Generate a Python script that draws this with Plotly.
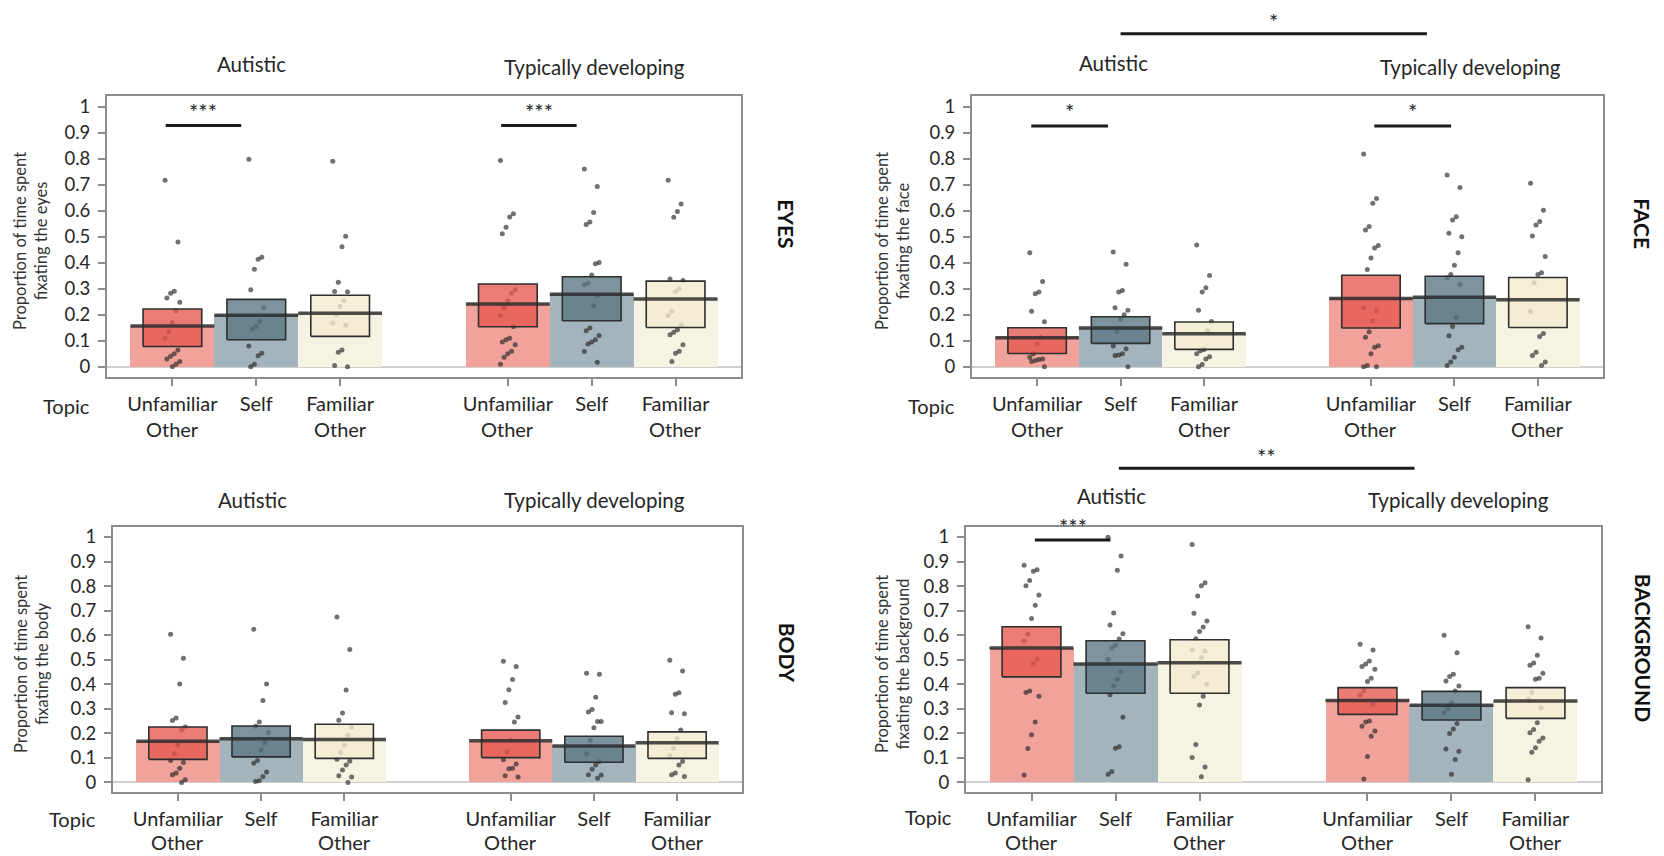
import plotly.graph_objects as go

W, H = 1664, 856
FONT = "Lato, 'Open Sans', sans-serif"
TXT = "#262626"

# ---------------- data ----------------
categories = ["Unfamiliar", "Self", "Familiar"]
categories_line2 = ["Other", "", "Other"]
groups = ["Autistic", "Typically developing"]
x_pos = [1, 2, 3, 5, 6, 7]
y_ticks = [0, 0.1, 0.2, 0.3, 0.4, 0.5, 0.6, 0.7, 0.8, 0.9, 1]
y_ticktext = ["0", "0.1", "0.2", "0.3", "0.4", "0.5", "0.6", "0.7", "0.8", "0.9", "1"]

# EYES
eyes_mean = [0.157, 0.198, 0.206, 0.241, 0.279, 0.260]
eyes_lo = [0.078, 0.104, 0.117, 0.154, 0.177, 0.151]
eyes_hi = [0.222, 0.259, 0.275, 0.318, 0.346, 0.329]
eyes_points = [
    [0.717, 0.48, 0.29, 0.283, 0.264, 0.248, 0.215, 0.17, 0.136, 0.11, 0.064, 0.05, 0.04, 0.03, 0.02, 0.01, 0.0],
    [0.798, 0.421, 0.413, 0.375, 0.296, 0.228, 0.174, 0.155, 0.145, 0.08, 0.052, 0.042, 0.01, 0.0],
    [0.79, 0.502, 0.461, 0.325, 0.289, 0.288, 0.254, 0.232, 0.2, 0.168, 0.16, 0.064, 0.056, 0.005, 0.0],
    [0.793, 0.588, 0.576, 0.536, 0.511, 0.296, 0.283, 0.254, 0.228, 0.197, 0.155, 0.11, 0.104, 0.095, 0.085, 0.06, 0.05, 0.037, 0.01],
    [0.76, 0.693, 0.593, 0.556, 0.547, 0.401, 0.396, 0.353, 0.321, 0.315, 0.273, 0.234, 0.149, 0.138, 0.12, 0.104, 0.095, 0.088, 0.059, 0.017],
    [0.717, 0.626, 0.597, 0.575, 0.337, 0.332, 0.3, 0.289, 0.213, 0.197, 0.161, 0.142, 0.133, 0.123, 0.085, 0.06, 0.052, 0.02],
]
eyes_sig = [(0.92, 1.82, "***"), (4.92, 5.82, "***")]
eyes_sig_y = 0.927

# FACE
face_mean = [0.112, 0.149, 0.127, 0.262, 0.267, 0.258]
face_lo = [0.051, 0.090, 0.067, 0.149, 0.166, 0.151]
face_hi = [0.150, 0.192, 0.172, 0.352, 0.348, 0.343]
face_points = [
    [0.438, 0.328, 0.287, 0.281, 0.213, 0.173, 0.113, 0.088, 0.05, 0.037, 0.03, 0.028, 0.024, 0.02, 0.0],
    [0.441, 0.394, 0.293, 0.287, 0.227, 0.217, 0.2, 0.183, 0.136, 0.08, 0.069, 0.05, 0.045, 0.043, 0.0],
    [0.468, 0.351, 0.304, 0.287, 0.217, 0.174, 0.138, 0.066, 0.062, 0.05, 0.039, 0.03, 0.009, 0.0],
    [0.818, 0.647, 0.628, 0.539, 0.526, 0.466, 0.456, 0.418, 0.374, 0.227, 0.215, 0.177, 0.135, 0.113, 0.081, 0.075, 0.05, 0.005, 0.0, 0.0],
    [0.737, 0.689, 0.577, 0.564, 0.513, 0.5, 0.438, 0.39, 0.355, 0.342, 0.316, 0.189, 0.155, 0.119, 0.075, 0.065, 0.037, 0.018, 0.005],
    [0.705, 0.602, 0.558, 0.545, 0.503, 0.424, 0.361, 0.355, 0.323, 0.212, 0.128, 0.116, 0.056, 0.043, 0.018, 0.005],
]
face_sig = [(0.93, 1.85, "*"), (5.04, 5.96, "*")]
face_sig_y = 0.925
face_group_sig = (2.0, 5.67, 1.28, "*")

# BODY
body_mean = [0.168, 0.178, 0.175, 0.170, 0.148, 0.162]
body_lo = [0.094, 0.104, 0.098, 0.101, 0.082, 0.098]
body_hi = [0.226, 0.230, 0.237, 0.213, 0.188, 0.206]
body_points = [
    [0.604, 0.506, 0.401, 0.262, 0.252, 0.226, 0.213, 0.152, 0.118, 0.089, 0.081, 0.058, 0.038, 0.031, 0.011, 0.0],
    [0.624, 0.401, 0.334, 0.246, 0.229, 0.202, 0.163, 0.132, 0.089, 0.078, 0.042, 0.024, 0.007, 0.004],
    [0.674, 0.541, 0.376, 0.283, 0.253, 0.226, 0.192, 0.152, 0.122, 0.094, 0.086, 0.071, 0.051, 0.027, 0.022, 0.0],
    [0.494, 0.472, 0.419, 0.378, 0.326, 0.266, 0.246, 0.172, 0.125, 0.092, 0.075, 0.058, 0.056, 0.027, 0.022],
    [0.445, 0.441, 0.347, 0.297, 0.287, 0.248, 0.248, 0.223, 0.172, 0.118, 0.085, 0.071, 0.054, 0.031, 0.03, 0.017],
    [0.498, 0.454, 0.365, 0.359, 0.284, 0.28, 0.213, 0.179, 0.139, 0.11, 0.085, 0.071, 0.038, 0.031, 0.024],
]

# BACKGROUND
bg_mean = [0.548, 0.482, 0.488, 0.334, 0.314, 0.332]
bg_lo = [0.430, 0.363, 0.363, 0.277, 0.254, 0.261]
bg_hi = [0.634, 0.577, 0.581, 0.386, 0.371, 0.386]
bg_points = [
    [0.885, 0.866, 0.86, 0.823, 0.801, 0.764, 0.722, 0.668, 0.604, 0.577, 0.502, 0.482, 0.372, 0.366, 0.351, 0.246, 0.194, 0.138, 0.03],
    [0.999, 0.922, 0.864, 0.69, 0.641, 0.606, 0.584, 0.559, 0.548, 0.502, 0.452, 0.42, 0.393, 0.357, 0.265, 0.145, 0.139, 0.044, 0.033],
    [0.969, 0.813, 0.801, 0.759, 0.689, 0.658, 0.633, 0.615, 0.585, 0.54, 0.535, 0.509, 0.447, 0.431, 0.4, 0.351, 0.315, 0.154, 0.101, 0.063, 0.023],
    [0.563, 0.539, 0.495, 0.482, 0.472, 0.461, 0.424, 0.411, 0.372, 0.355, 0.318, 0.25, 0.246, 0.229, 0.209, 0.188, 0.106, 0.014],
    [0.6, 0.528, 0.441, 0.431, 0.413, 0.393, 0.372, 0.325, 0.3, 0.284, 0.24, 0.218, 0.199, 0.136, 0.127, 0.093, 0.033],
    [0.634, 0.588, 0.518, 0.486, 0.477, 0.445, 0.424, 0.42, 0.366, 0.34, 0.304, 0.243, 0.216, 0.202, 0.181, 0.168, 0.141, 0.123, 0.011],
]
bg_sig = [(1.04, 1.94, "***")]
bg_sig_y = 0.988
bg_group_sig = (2.04, 5.56, 1.28, "**")

# ---------------- styles / layout ----------------
BAR_COLORS = ["#F1A29B", "#A3B4BD", "#F7F3E3"] * 2
BOX_COLORS = ["rgba(230,87,79,0.78)", "rgba(88,117,130,0.78)", "rgba(243,235,206,0.8)"] * 2
X_RANGE = [0.22, 7.78]
Y_RANGE = [-0.04, 1.04]
CAT_SIZE = 20

panels = [
    dict(name="EYES", ax="", mean=eyes_mean, lo=eyes_lo, hi=eyes_hi, pts=eyes_points,
         sig=eyes_sig, sig_y=eyes_sig_y, gsig=None, what="eyes",
         px_x=(107, 741), px_y=(94.5, 376.5), title_px=((252, 62), (594, 65)),
         label_px=(787, 222), ytitle_px=31, topic_px=(66, 405), line2_px=428),
    dict(name="FACE", ax="2", mean=face_mean, lo=face_lo, hi=face_hi, pts=face_points,
         sig=face_sig, sig_y=face_sig_y, gsig=face_group_sig, what="face",
         px_x=(972, 1603), px_y=(94.5, 376.5), title_px=((1113, 61), (1470, 65)),
         label_px=(1643, 222), ytitle_px=893, topic_px=(931, 405), line2_px=428),
    dict(name="BODY", ax="3", mean=body_mean, lo=body_lo, hi=body_hi, pts=body_points,
         sig=[], sig_y=None, gsig=None, what="body",
         px_x=(113, 742), px_y=(527, 793), title_px=((253, 500), (594, 500)),
         label_px=(787, 653), ytitle_px=32, topic_px=(72, 820), line2_px=843),
    dict(name="BACKGROUND", ax="4", mean=bg_mean, lo=bg_lo, hi=bg_hi, pts=bg_points,
         sig=bg_sig, sig_y=bg_sig_y, gsig=bg_group_sig, what="background",
         px_x=(966, 1601), px_y=(527, 793), title_px=((1111, 496), (1458, 500)),
         label_px=(1643, 648), ytitle_px=893, topic_px=(928, 818), line2_px=843),
]


def pxx(v):
    return v / W


def pxy(v):
    return 1 - v / H


def jitter(i):
    return (((i * 7) % 9) - 4) * 0.022


fig = go.Figure()
annotations = []
shapes = []


def ann(**kw):
    d = dict(showarrow=False, xanchor="center", yanchor="middle")
    d.update(kw)
    annotations.append(d)


for p in panels:
    xa = "x" + p["ax"]
    ya = "y" + p["ax"]
    dom_x = [pxx(p["px_x"][0]), pxx(p["px_x"][1])]
    dom_y = [pxy(p["px_y"][1]), pxy(p["px_y"][0])]

    def to_paper_x(v, dom_x=dom_x):
        return dom_x[0] + (v - X_RANGE[0]) / (X_RANGE[1] - X_RANGE[0]) * (dom_x[1] - dom_x[0])

    def to_paper_y(v, dom_y=dom_y):
        return dom_y[0] + (v - Y_RANGE[0]) / (Y_RANGE[1] - Y_RANGE[0]) * (dom_y[1] - dom_y[0])

    # background bars (mean)
    fig.add_trace(go.Bar(x=x_pos, y=p["mean"], width=1, marker=dict(color=BAR_COLORS, line=dict(width=0)),
                         xaxis=xa, yaxis=ya, hoverinfo="skip"))
    # points
    xs, ys = [], []
    for k, vals in enumerate(p["pts"]):
        for i, v in enumerate(vals):
            xs.append(x_pos[k] + jitter(i))
            ys.append(v)
    fig.add_trace(go.Scatter(x=xs, y=ys, mode="markers", xaxis=xa, yaxis=ya,
                             marker=dict(size=5, color="rgba(40,40,40,0.66)", line=dict(width=0)),
                             hoverinfo="skip"))
    # inner boxes
    for k in range(6):
        c = x_pos[k]
        fig.add_trace(go.Scatter(
            x=[c - 0.35, c + 0.35, c + 0.35, c - 0.35, c - 0.35],
            y=[p["lo"][k], p["lo"][k], p["hi"][k], p["hi"][k], p["lo"][k]],
            mode="lines", fill="toself", fillcolor=BOX_COLORS[k],
            line=dict(color="#2e2e2e", width=1.6), xaxis=xa, yaxis=ya, hoverinfo="skip"))
    # mean lines
    mx, my = [], []
    for k in range(6):
        mx += [x_pos[k] - 0.5, x_pos[k] + 0.5, None]
        my += [p["mean"][k], p["mean"][k], None]
    fig.add_trace(go.Scatter(x=mx, y=my, mode="lines", line=dict(color="rgba(45,45,45,0.85)", width=3.5),
                             xaxis=xa, yaxis=ya, hoverinfo="skip"))
    # within-group significance
    for (x0, x1, lab) in p["sig"]:
        shapes.append(dict(type="line", xref=xa, yref=ya, x0=x0, x1=x1, y0=p["sig_y"], y1=p["sig_y"],
                           line=dict(color="#1a1a1a", width=3)))
        ann(xref="paper", yref="paper", x=to_paper_x((x0 + x1) / 2), y=to_paper_y(p["sig_y"] + 0.055),
            text=lab, font=dict(family=FONT, size=22, color=TXT))

    if p["gsig"]:
        gx0, gx1, gy, glab = p["gsig"]
        shapes.append(dict(type="line", xref="paper", yref="paper", x0=to_paper_x(gx0), x1=to_paper_x(gx1),
                           y0=to_paper_y(gy), y1=to_paper_y(gy), line=dict(color="#1a1a1a", width=3)))
        ann(xref="paper", yref="paper", x=to_paper_x((gx0 + gx1) / 2), y=to_paper_y(gy) + 12 / H,
            text=glab, font=dict(family=FONT, size=22, color=TXT))

    axis_common = dict(showline=True, mirror=True, linecolor="#8c8c8c", linewidth=2, showgrid=False,
                       ticks="outside", tickcolor="#8c8c8c", ticklen=7, tickwidth=1.5)
    fig.update_layout(**{
        ("xaxis" + p["ax"]): dict(domain=dom_x, range=X_RANGE, tickvals=x_pos, ticktext=categories * 2,
                                  tickfont=dict(family=FONT, size=CAT_SIZE, color=TXT), anchor=ya,
                                  zeroline=False, ticklabelstandoff=1, **axis_common),
        ("yaxis" + p["ax"]): dict(domain=dom_y, range=Y_RANGE, tickvals=y_ticks, ticktext=y_ticktext,
                                  tickfont=dict(family=FONT, size=18.5, color=TXT), anchor=xa,
                                  zeroline=True, zerolinecolor="#cfcfcf", zerolinewidth=1.5,
                                  ticklabelstandoff=4, **axis_common),
    })

    # second line of the category labels
    for k in range(6):
        if categories_line2[k % 3]:
            ann(xref=xa, yref="paper", x=x_pos[k], y=pxy(p["line2_px"]), text=categories_line2[k % 3],
                font=dict(family=FONT, size=CAT_SIZE, color=TXT))

    # group titles
    for g, (tx, ty) in zip(groups, p["title_px"]):
        ann(xref="paper", yref="paper", x=pxx(tx), y=pxy(ty), text=g,
            font=dict(family=FONT, size=20.5, color=TXT))
    # side label
    ann(xref="paper", yref="paper", x=pxx(p["label_px"][0]), y=pxy(p["label_px"][1]),
        text="<b>" + p["name"] + "</b>", textangle=90, font=dict(family=FONT, size=21, color="#111"))
    # y title
    ann(xref="paper", yref="paper", x=pxx(p["ytitle_px"]), y=(dom_y[0] + dom_y[1]) / 2 - 0.005,
        text="Proportion of time spent<br>fixating the " + p["what"], textangle=-90,
        font=dict(family=FONT, size=16.5, color="#333"))
    # Topic label
    ann(xref="paper", yref="paper", x=pxx(p["topic_px"][0]), y=pxy(p["topic_px"][1]),
        text="Topic", font=dict(family=FONT, size=CAT_SIZE, color=TXT))

fig.update_layout(
    width=W, height=H, margin=dict(l=0, r=0, t=0, b=0),
    paper_bgcolor="white", plot_bgcolor="white",
    barmode="overlay", bargap=0, showlegend=False,
    annotations=annotations, shapes=shapes,
    font=dict(family=FONT, color=TXT),
)

fig.write_html("out.html", config={"displayModeBar": False},
               post_script="document.body.style.margin='0';document.body.style.overflow='hidden';")
